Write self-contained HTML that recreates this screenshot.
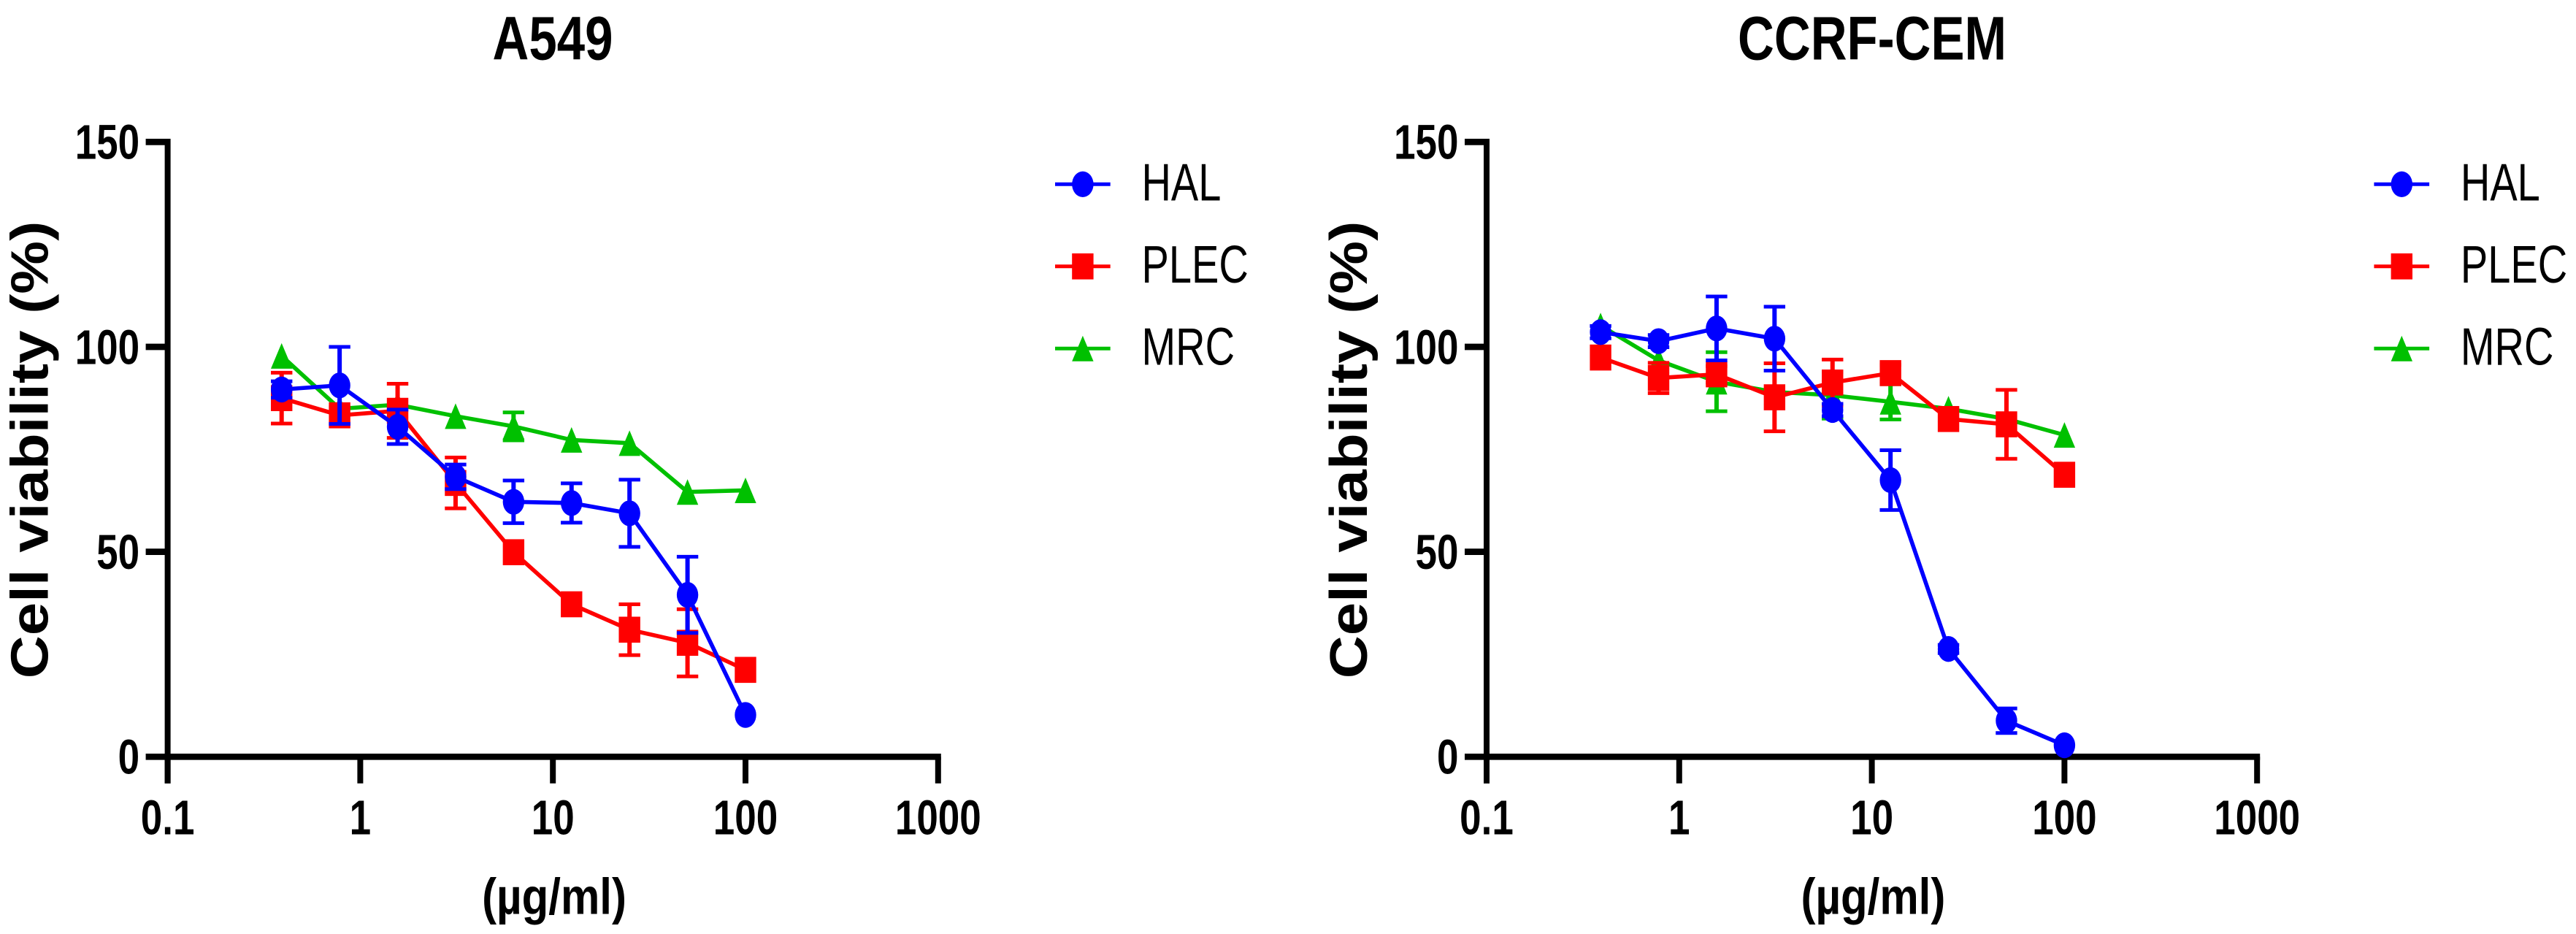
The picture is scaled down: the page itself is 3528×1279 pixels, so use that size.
<!DOCTYPE html>
<html>
<head>
<meta charset="utf-8">
<style>
html,body{margin:0;padding:0;background:#fff;}
svg{display:block;}
text{font-family:"Liberation Sans",Arial,sans-serif;fill:#000;}
</style>
</head>
<body>
<svg id="figure" xmlns="http://www.w3.org/2000/svg" width="3528" height="1279" viewBox="0 0 3528 1279">
  <rect x="0" y="0" width="3528" height="1279" fill="#ffffff"/>
  <g id="panel-a549">
    <text transform="translate(757,81.7) scale(1,1.22)" text-anchor="middle" font-size="69" font-weight="700">A549</text>
    <text transform="translate(65.5,616) scale(1,1.135) rotate(-90)" text-anchor="middle" font-size="72" font-weight="700">Cell viability (%)</text>
    <text transform="translate(759,1251.7) scale(1,1.16)" text-anchor="middle" font-size="60" font-weight="700">(µg/ml)</text>
  </g>
  <g id="panel-cem">
    <text transform="translate(2564,81.7) scale(1,1.22)" text-anchor="middle" font-size="69" font-weight="700">CCRF-CEM</text>
    <text transform="translate(1871.9,616) scale(1,1.135) rotate(-90)" text-anchor="middle" font-size="72" font-weight="700">Cell viability (%)</text>
    <text transform="translate(2565.4,1251.7) scale(1,1.16)" text-anchor="middle" font-size="60" font-weight="700">(µg/ml)</text>
  </g>
</svg>
<script>
// Shared chart data
var concentrations = [0.390625, 0.78125, 1.5625, 3.125, 6.25, 12.5, 25, 50, 100];
var xTickValues = [0.1, 1, 10, 100, 1000];
var xTickLabels = ['0.1', '1', '10', '100', '1000'];
var yTickValues = [0, 50, 100, 150];
var seriesNames = ['MRC', 'PLEC', 'HAL'];
var legendOrder = ['HAL', 'PLEC', 'MRC'];

// A549 panel values (% viability) and error bars
var a549Hal = [89.6, 90.6, 80.5, 68.3, 62.2, 61.9, 59.4, 39.5, 10.2];
var a549HalErr = [2, 9.4, 4.2, 3, 5.2, 4.8, 8.2, 9.3, 0];
var a549Plec = [87.5, 83.3, 84.4, 66.8, 49.9, 37.2, 31, 27.8, 21.2];
var a549PlecErr = [6.2, 2, 6.6, 6.2, 0, 0, 6.2, 8.2, 0];
var a549Mrc = [97.8, 84.9, 85.9, 83.1, 80.6, 77.3, 76.5, 64.6, 65];
var a549MrcErr = [0, 0, 0, 0, 3.4, 0, 0, 0, 0];

// CCRF-CEM panel values (% viability) and error bars
var cemHal = [103.6, 101.4, 104.5, 102, 84.6, 67.5, 26.3, 8.8, 2.8];
var cemHalErr = [1.5, 1.5, 7.8, 7.8, 1.5, 7.3, 1, 3, 0];
var cemPlec = [97.4, 92.4, 93.3, 87.7, 91.3, 93.6, 82.4, 81.1, 68.8];
var cemPlecErr = [0, 3.7, 2, 8.3, 5.6, 2, 0, 8.4, 0];
var cemMrc = [105.2, 96.7, 91.5, 89, 88.2, 86.6, 84.9, 82.4, 78.5];
var cemMrcErr = [0, 0, 7.2, 0, 5.7, 4.3, 0, 0, 0];

var SVG_NS = 'http://www.w3.org/2000/svg';
var seriesColors = { HAL: '#0000ff', PLEC: '#ff0000', MRC: '#00c000' };

function xScale(value, originX) {
  return originX + (Math.log10(value) + 1) * 263.8;
}
function yScale(value) {
  return 1036.3 - value * 5.613;
}
function svgEl(tag, parent, attrs) {
  var el = document.createElementNS(SVG_NS, tag);
  for (var key in attrs) {
    el.setAttribute(key, attrs[key]);
  }
  parent.appendChild(el);
  return el;
}
function drawMarker(parent, name, cx, cy) {
  var color = seriesColors[name];
  var el;
  if (name === 'HAL') {
    el = svgEl('ellipse', parent, { cx: cx, cy: cy, rx: 14.7, ry: 17.7, fill: color });
  } else if (name === 'PLEC') {
    el = svgEl('rect', parent, { x: cx - 14.7, y: cy - 17.8, width: 29.4, height: 35.6, fill: color });
  } else {
    el = svgEl('polygon', parent, { points: (cx - 14.7) + ',' + (cy + 17.5) + ' ' + cx + ',' + (cy - 17.5) + ' ' + (cx + 14.7) + ',' + (cy + 17.5), fill: color });
  }
  
  
}
function drawAxes(parent, originX) {
  var xEnd = xScale(1000, originX);
  var yAxis = svgEl('line', parent, { x1: originX, x2: originX, y1: yScale(150) - 4.3, y2: yScale(0) + 36.4, stroke: '#000', 'stroke-width': 8 });
  
  
  var xAxis = svgEl('line', parent, { x1: originX - 30, x2: xEnd + 4, y1: yScale(0), y2: yScale(0), stroke: '#000', 'stroke-width': 8.7 });
  
  
  yTickValues.forEach(function (v) {
    if (v !== 0) {
      var tick = svgEl('line', parent, { x1: originX - 30, x2: originX, y1: yScale(v), y2: yScale(v), stroke: '#000', 'stroke-width': 8.7 });
      
      
    }
    var label = svgEl('text', parent, { transform: 'translate(' + (originX - 38.5) + ',' + (yScale(v) + 23.3) + ') scale(1,1.26)', 'text-anchor': 'end', 'font-size': 53, 'font-weight': 700 });
    label.textContent = String(v);
    
    
  });
  xTickValues.forEach(function (v, i) {
    var px = xScale(v, originX);
    var tick = svgEl('line', parent, { x1: px, x2: px, y1: yScale(0), y2: yScale(0) + 36.4, stroke: '#000', 'stroke-width': 8 });
    
    
    var label = svgEl('text', parent, { transform: 'translate(' + px + ',1142.7) scale(1,1.26)', 'text-anchor': 'middle', 'font-size': 53, 'font-weight': 700 });
    label.textContent = xTickLabels[i];
    
    
  });
}
function drawSeries(parent, name, values, errors, originX) {
  var color = seriesColors[name];
  var group = svgEl('g', parent, {});
  
  
  var pts = values.map(function (v, i) {
    return xScale(concentrations[i], originX) + ',' + yScale(v);
  }).join(' ');
  var line = svgEl('polyline', group, { points: pts, fill: 'none', stroke: color, 'stroke-width': 5.6 });
  
  
  values.forEach(function (v, i) {
    var px = xScale(concentrations[i], originX);
    if (errors[i] > 0) {
      var hi = yScale(v + errors[i]);
      var lo = yScale(v - errors[i]);
      var stem = svgEl('line', group, { x1: px, x2: px, y1: hi, y2: lo, stroke: color, 'stroke-width': 6 });
      
      
      [hi, lo].forEach(function (capY) {
        var cap = svgEl('line', group, { x1: px - 14.7, x2: px + 14.7, y1: capY, y2: capY, stroke: color, 'stroke-width': 5 });
        
        
      });
    }
    drawMarker(group, name, px, yScale(v));
  });
}
function drawLegend(parent, originX) {
  var offset = originX - 229.6;
  legendOrder.forEach(function (name, i) {
    var entry = svgEl('g', parent, {});
    
    
    var cy = 252.3 + i * 112.5;
    var line = svgEl('line', entry, { x1: 1445 + offset, x2: 1520.7 + offset, y1: cy, y2: cy, stroke: seriesColors[name], 'stroke-width': 5 });
    
    
    drawMarker(entry, name, 1482.9 + offset, cy);
    var label = svgEl('text', entry, { transform: 'translate(' + (1563.5 + offset) + ',' + (cy + 22.4) + ') scale(1,1.29)', 'font-size': 56 });
    label.textContent = name;
    
    
  });
}
function drawPanel(panelId, originX, data) {
  var panel = document.getElementById(panelId);
  drawAxes(panel, originX);
  seriesNames.forEach(function (name) {
    drawSeries(panel, name, data[name][0], data[name][1], originX);
  });
  drawLegend(panel, originX);
}
drawPanel('panel-a549', 229.6, {
  HAL: [a549Hal, a549HalErr],
  PLEC: [a549Plec, a549PlecErr],
  MRC: [a549Mrc, a549MrcErr]
});
drawPanel('panel-cem', 2036, {
  HAL: [cemHal, cemHalErr],
  PLEC: [cemPlec, cemPlecErr],
  MRC: [cemMrc, cemMrcErr]
});
</script>
</body>
</html>
